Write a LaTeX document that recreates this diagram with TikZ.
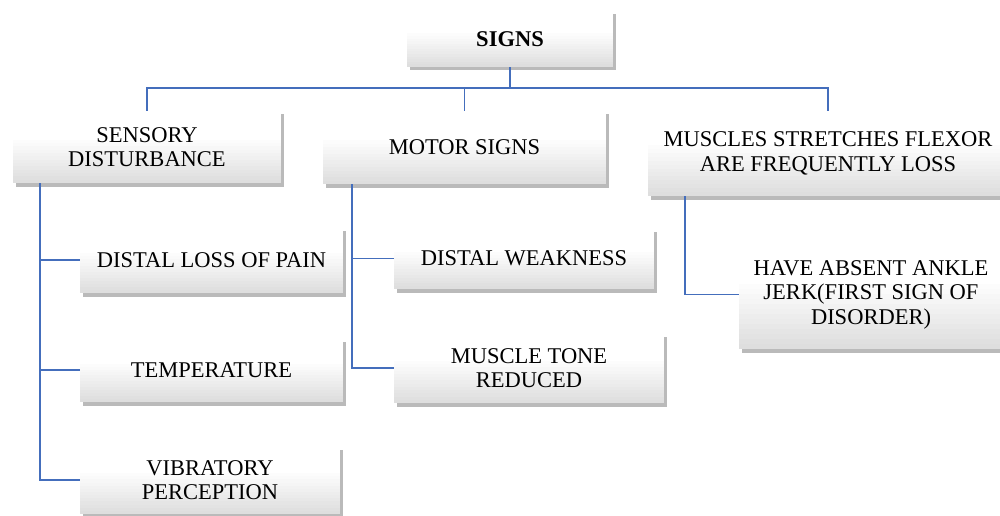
\documentclass[tikz,border=0pt]{standalone}
\usepackage{fontspec}
\setmainfont{Liberation Serif}
\usetikzlibrary{shadows,calc}
\definecolor{linkblue}{RGB}{68,110,188}
\tikzset{
  boxnode/.style={inner sep=0pt, align=center, fill=white,
    font=\fontsize{22.5}{24.5}\selectfont,
    path picture={\foreach \k in {1,...,13}{\fill[black!\k] (path picture bounding box.south west) rectangle ($(path picture bounding box.south east)!{(14-\k)/13*0.6}!(path picture bounding box.north east)$);}},
    drop shadow={shadow xshift=2.5pt, shadow yshift=-3.5pt, fill=black!60, opacity=0.45}},
  link/.style={draw=linkblue, line width=1.7pt}
}
\begin{document}
\begin{tikzpicture}[x=1pt,y=1pt]
\useasboundingbox (0,0) rectangle (1000,-516);
\node[boxnode, minimum width=206pt, minimum height=56pt] (signs) at (510,-39) {\textbf{SIGNS}};
\node[boxnode, minimum width=268pt, minimum height=72pt] (sens) at (147,-147) {SENSORY\\DISTURBANCE};
\node[boxnode, minimum width=283pt, minimum height=73pt] (motor) at (464.5,-147.5) {MOTOR SIGNS};
\node[boxnode, minimum width=360pt, minimum height=85pt] (muscle) at (828,-153.5) {MUSCLES STRETCHES FLEXOR\\ARE FREQUENTLY LOSS};
\node[boxnode, minimum width=263pt, minimum height=66pt] (pain) at (211.5,-260) {DISTAL LOSS OF PAIN};
\node[boxnode, minimum width=263pt, minimum height=64pt] (temp) at (211.5,-370) {TEMPERATURE};
\node[boxnode, minimum width=260pt, minimum height=68pt] (vib) at (210,-480) {VIBRATORY\\PERCEPTION};
\node[boxnode, minimum width=260pt, minimum height=61pt] (weak) at (524,-258.5) {DISTAL WEAKNESS};
\node[boxnode, minimum width=270pt, minimum height=70pt] (tone) at (529,-368) {MUSCLE TONE\\REDUCED};
\node[boxnode, minimum width=264pt, minimum height=109pt] (ankle) at (871,-294.5) {HAVE ABSENT ANKLE\\JERK(FIRST SIGN OF\\DISORDER)};
\coordinate (bar) at (510,-88);
\draw[link] (signs.south) -- (bar) -| (sens.north);
\draw[link] (bar) -| (motor.north);
\draw[link] (bar) -| (muscle.north);
\draw[link] ([xshift=27pt]sens.south west) |- (pain.west);
\draw[link] ([xshift=27pt]sens.south west) |- (temp.west);
\draw[link] ([xshift=27pt]sens.south west) |- (vib.west);
\draw[link] ([xshift=29pt]motor.south west) |- (weak.west);
\draw[link] ([xshift=29pt]motor.south west) |- (tone.west);
\draw[link] ([xshift=37pt]muscle.south west) |- (ankle.west);
\end{tikzpicture}
\end{document}
